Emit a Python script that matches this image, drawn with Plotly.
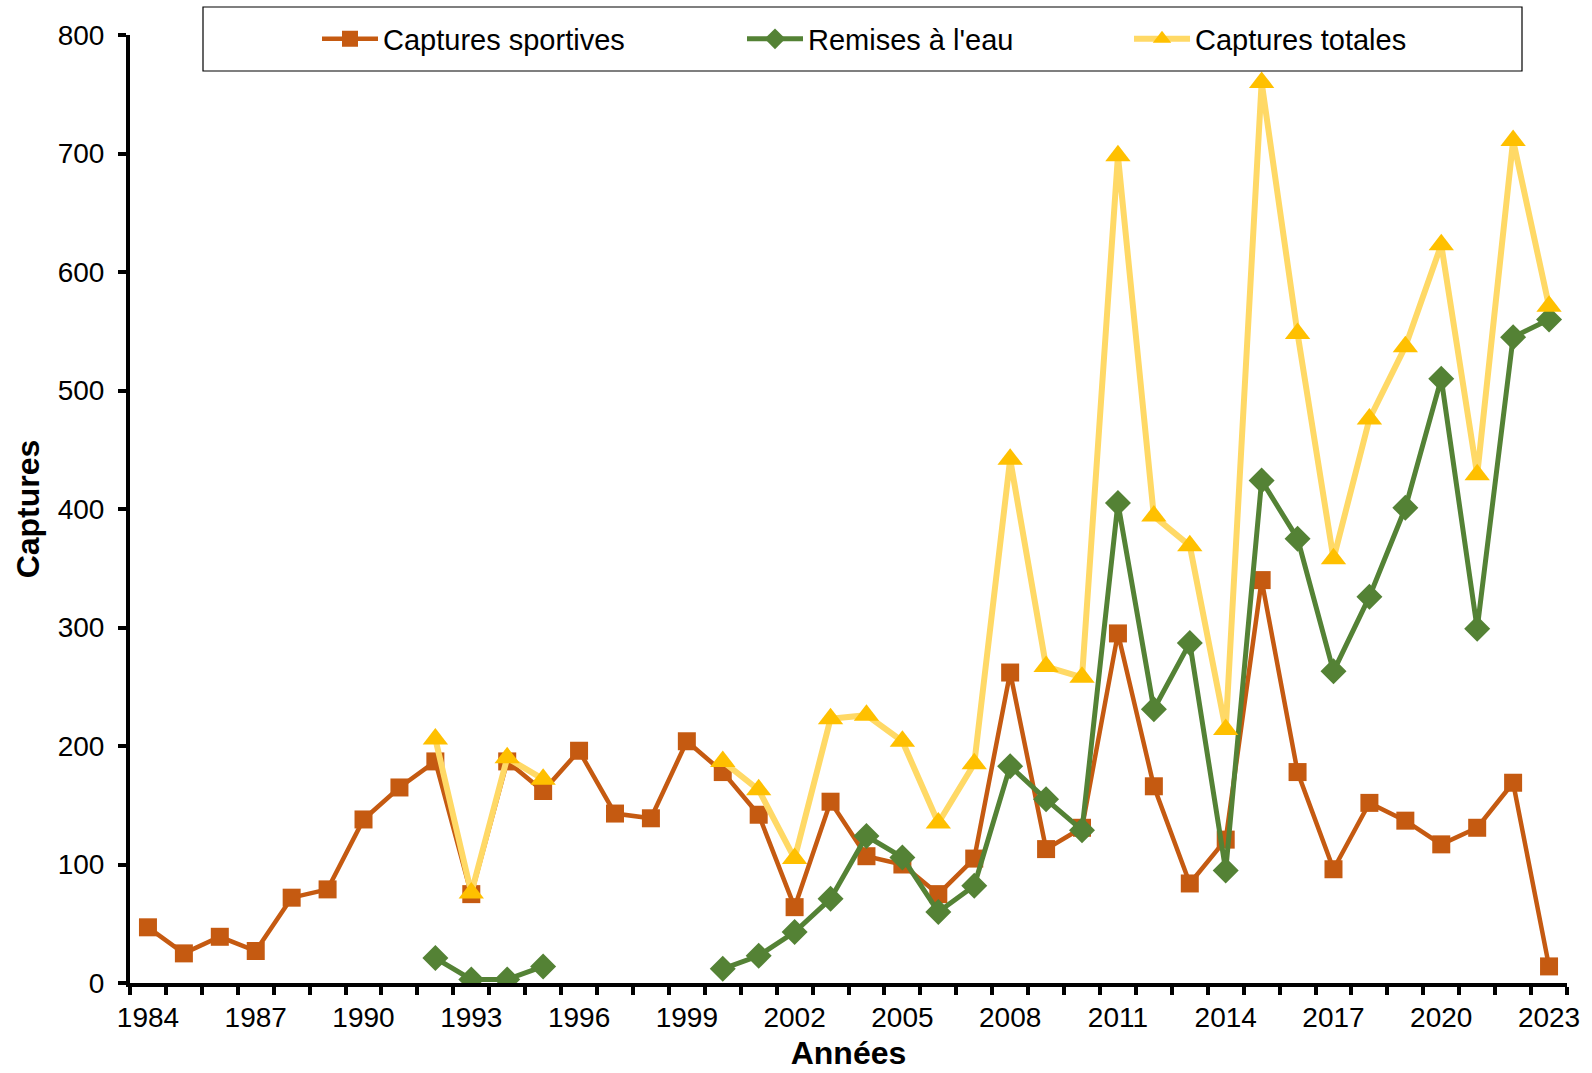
import plotly.graph_objects as go

years = list(range(1984, 2024))

captures_sportives = [47, 25, 39, 27, 72, 79, 138, 165, 187, 75,
                      187, 162, 196, 143, 139, 204, 178, 142, 64, 153,
                      107, 100, 75, 105, 262, 113, 131, 295, 166, 84,
                      121, 340, 178, 96, 152, 137, 117, 131, 169, 14]

remises_eau = [None]*8 + [21, 3, 3, 14, None, None, None, None,
               12, 23, 43, 71, 124, 106, 60, 82, 183, 155, 129, 405,
               231, 287, 95, 424, 375, 263, 326, 401, 510, 299, 545, 560]

captures_totales = [None]*8 + [206, 76, 190, 172, None, None, None, None,
                    187, 163, 105, 223, 226, 204, 135, 185, 442, 267, 258, 698,
                    394, 369, 214, 760, 548, 358, 476, 537, 623, 429, 711, 571]

x_tick_years = list(range(1984, 2024, 3))
y_ticks = list(range(0, 801, 100))

FONT = "Liberation Sans, Arial, sans-serif"

L, R, T, B = 130, 25, 35, 90
W, H = 1592, 1073
pw, ph = W - L - R, H - T - B

def px_x(p):
    return (p - L) / pw

def px_y(p):
    return (H - B - p) / ph

fig = go.Figure()
fig.add_trace(go.Scatter(
    x=years, y=captures_sportives, name="Captures sportives", mode="lines+markers",
    line=dict(color="#C55A11", width=4.5),
    marker=dict(symbol="square", size=18, color="#C55A11"),
    connectgaps=False, legend="legend"))
fig.add_trace(go.Scatter(
    x=years, y=remises_eau, name="Remises à l'eau", mode="lines+markers",
    line=dict(color="#548235", width=5),
    marker=dict(symbol="diamond", size=20, color="#548235"),
    connectgaps=False, legend="legend2"))
fig.add_trace(go.Scatter(
    x=years, y=captures_totales, name="Captures totales", mode="lines+markers",
    line=dict(color="#FFD966", width=6),
    marker=dict(symbol="triangle-up", size=22, color="#FFC000"),
    connectgaps=False, legend="legend3"))

leg_common = dict(orientation="h", xanchor="left", yanchor="middle", y=px_y(39),
                  bgcolor="rgba(0,0,0,0)", borderwidth=0,
                  font=dict(size=29, family=FONT, color="black"), itemwidth=56)

fig.update_layout(
    width=W, height=H,
    margin=dict(l=L, r=R, t=T, b=B, autoexpand=False),
    paper_bgcolor="white", plot_bgcolor="white",
    font=dict(family=FONT, size=28, color="black"),
    showlegend=True,
    legend=dict(leg_common, x=px_x(317)),
    legend2=dict(leg_common, x=px_x(742)),
    legend3=dict(leg_common, x=px_x(1129)),
    xaxis=dict(range=[1983.5, 2023.5], tickvals=x_tick_years, ticktext=[str(y) for y in x_tick_years],
               ticks="", showline=True, linecolor="black", linewidth=4, showgrid=False, zeroline=False,
               ticklabelstandoff=6, tickfont=dict(size=28, family=FONT),
               minor=dict(tick0=1983.5, dtick=1, ticks="outside", ticklen=8, tickwidth=4,
                          tickcolor="black", showgrid=False),
               title=dict(text="<b>Années</b>", font=dict(size=32, family=FONT), standoff=11)),
    yaxis=dict(range=[0, 800], tickvals=y_ticks, ticks="outside", ticklen=8, tickwidth=4,
               tickcolor="black", showline=True, linecolor="black", linewidth=4,
               showgrid=False, zeroline=False, tickfont=dict(size=28, family=FONT),
               ticklabelstandoff=8,
               title=dict(text="<b>Captures</b>", font=dict(size=32, family=FONT), standoff=9)),
    shapes=[dict(type="rect", xref="paper", yref="paper",
                 x0=px_x(203), x1=px_x(1522), y0=px_y(71), y1=px_y(7),
                 line=dict(color="black", width=1.2), fillcolor="rgba(0,0,0,0)", layer="above")],
)

fig.write_html("out.html", config={"displayModeBar": False},
               post_script="document.body.style.margin='0';document.body.style.overflow='hidden';")
